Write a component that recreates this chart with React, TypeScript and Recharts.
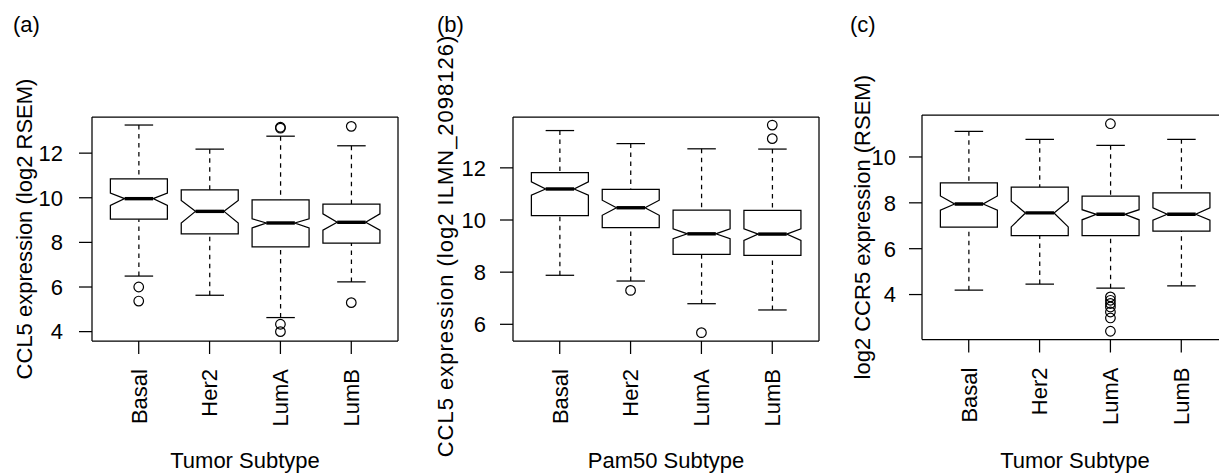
import React from 'react';
import { ComposedChart, Bar, Scatter, XAxis, YAxis, Label } from 'recharts';

const FONT = '"Liberation Sans", Arial, Helvetica, sans-serif';

const categories = ['Basal', 'Her2', 'LumA', 'LumB'];

// ---- panel (a): CCL5 expression (log2 RSEM) by tumor subtype ----
const aLower = [6.49, 5.63, 4.63, 6.23];
const aQ1 = [9.04, 8.38, 7.8, 7.97];
const aNotchLo = [9.66, 8.87, 8.65, 8.55];
const aMedian = [9.96, 9.39, 8.87, 8.9];
const aNotchHi = [10.21, 9.88, 9.06, 9.28];
const aQ3 = [10.85, 10.35, 9.91, 9.71];
const aUpper = [13.26, 12.18, 12.76, 12.33];
const aOutliers = [[6.0, 5.37], [], [13.12, 13.16, 4.33, 4.0], [13.2, 5.3]];
const aYTicks = [4, 6, 8, 10, 12];
const aYDomain = [3.58, 13.62];

// ---- panel (b): CCL5 expression (log2 ILMN_2098126) by Pam50 subtype ----
const bLower = [7.88, 7.66, 6.79, 6.55];
const bQ1 = [10.17, 9.71, 8.68, 8.64];
const bNotchLo = [10.95, 10.18, 9.28, 9.22];
const bMedian = [11.19, 10.47, 9.47, 9.46];
const bNotchHi = [11.46, 10.76, 9.66, 9.66];
const bQ3 = [11.82, 11.17, 10.38, 10.37];
const bUpper = [13.43, 12.93, 12.73, 12.72];
const bOutliers = [[], [7.3], [5.68], [13.12, 13.64]];
const bYTicks = [6, 8, 10, 12];
const bYDomain = [5.36, 13.95];

// ---- panel (c): log2 CCR5 expression (RSEM) by tumor subtype ----
const cLower = [4.19, 4.46, 4.28, 4.38];
const cQ1 = [6.94, 6.57, 6.57, 6.77];
const cNotchLo = [7.68, 6.95, 7.26, 7.24];
const cMedian = [7.95, 7.56, 7.5, 7.5];
const cNotchHi = [8.3, 8.07, 7.7, 7.78];
const cQ3 = [8.87, 8.68, 8.29, 8.43];
const cUpper = [11.12, 10.77, 10.51, 10.77];
const cOutliers = [[], [], [11.45, 3.9, 3.75, 3.61, 3.46, 3.24, 2.98, 2.4], []];
const cYTicks = [4, 6, 8, 10];
const cYDomain = [2.04, 11.83];

type Row = {
  cat: string;
  lower: number;
  q1: number;
  notchLo: number;
  median: number;
  notchHi: number;
  q3: number;
  upper: number;
  out: number[];
};

const buildRows = (
  lower: number[], q1: number[], nlo: number[], med: number[],
  nhi: number[], q3: number[], upper: number[], outliers: number[][]
): Row[] =>
  categories.map((cat, i) => ({
    cat,
    lower: lower[i],
    q1: q1[i],
    notchLo: nlo[i],
    median: med[i],
    notchHi: nhi[i],
    q3: q3[i],
    upper: upper[i],
    out: outliers[i],
  }));

type PanelCfg = {
  left: number;
  width: number;
  yAxisWidth: number;
  plotTop: number;
  plotBottom: number;
  tickMargin: number;
  yLabel: string;
  xLabel: string;
  yLabelDist: number;
  yLabelShift: number;
  yLabelSpacing: number;
  domain: number[];
  ticks: number[];
  rows: Row[];
};

const PLOT_W = 306;
const H = 473;
const LW = 1.25;

const panels: PanelCfg[] = [
  {
    left: 0, width: 410, yAxisWidth: 92, plotTop: 117, plotBottom: 341, tickMargin: 16,
    yLabel: 'CCL5 expression (log2 RSEM)', xLabel: 'Tumor Subtype',
    yLabelDist: 68, yLabelShift: 0, yLabelSpacing: 0,
    domain: aYDomain, ticks: aYTicks,
    rows: buildRows(aLower, aQ1, aNotchLo, aMedian, aNotchHi, aQ3, aUpper, aOutliers),
  },
  {
    left: 410, width: 410, yAxisWidth: 103, plotTop: 117, plotBottom: 341, tickMargin: 14,
    yLabel: 'CCL5 expression (log2 ILMN_2098126)', xLabel: 'Pam50 Subtype',
    yLabelDist: 68, yLabelShift: 17, yLabelSpacing: 1,
    domain: bYDomain, ticks: bYTicks,
    rows: buildRows(bLower, bQ1, bNotchLo, bMedian, bNotchHi, bQ3, bUpper, bOutliers),
  },
  {
    left: 820, width: 409, yAxisWidth: 102, plotTop: 115, plotBottom: 339.5, tickMargin: 13,
    yLabel: 'log2 CCR5 expression (RSEM)', xLabel: 'Tumor Subtype',
    yLabelDist: 60, yLabelShift: 0, yLabelSpacing: 0,
    domain: cYDomain, ticks: cYTicks,
    rows: buildRows(cLower, cQ1, cNotchLo, cMedian, cNotchHi, cQ3, cUpper, cOutliers),
  },
];

const titles = [
  { text: '(a)', x: 13 },
  { text: '(b)', x: 437 },
  { text: '(c)', x: 850 },
];

const BoxShape = (props: any) => {
  const { x, y, width, height, payload } = props;
  if (!payload || x == null || y == null) return <g />;
  const top = Math.min(y, y + height);
  const bot = Math.max(y, y + height);
  const lo = payload.lower;
  const hi = payload.upper;
  const py = (v: number) => top + ((hi - v) / (hi - lo)) * (bot - top);
  const cx = x + width / 2;
  const hw = width / 2;
  const nw = hw / 2;
  const yQ3 = py(payload.q3);
  const yQ1 = py(payload.q1);
  const yNH = py(payload.notchHi);
  const yNL = py(payload.notchLo);
  const yMed = py(payload.median);
  const pts = [
    [cx - hw, yQ3], [cx + hw, yQ3], [cx + hw, yNH], [cx + nw, yMed], [cx + hw, yNL],
    [cx + hw, yQ1], [cx - hw, yQ1], [cx - hw, yNL], [cx - nw, yMed], [cx - hw, yNH],
  ].map((p) => p.join(',')).join(' ');
  return (
    <g>
      <line x1={cx} x2={cx} y1={top} y2={yQ3} stroke="#000" strokeWidth={LW} strokeDasharray="4.5 4.5" />
      <line x1={cx} x2={cx} y1={bot} y2={yQ1} stroke="#000" strokeWidth={LW} strokeDasharray="4.5 4.5" />
      <line x1={cx - nw} x2={cx + nw} y1={top} y2={top} stroke="#000" strokeWidth={LW} />
      <line x1={cx - nw} x2={cx + nw} y1={bot} y2={bot} stroke="#000" strokeWidth={LW} />
      <polygon points={pts} fill="#fff" stroke="#000" strokeWidth={LW} strokeLinejoin="miter" />
      <line x1={cx - nw} x2={cx + nw} y1={yMed} y2={yMed} stroke="#000" strokeWidth={3.4} />
    </g>
  );
};

const OutlierShape = (props: any) => {
  const { cx, cy } = props;
  if (cx == null || cy == null || !isFinite(cx) || !isFinite(cy)) return <g />;
  return <circle cx={cx} cy={cy} r={4.8} fill="none" stroke="#000" strokeWidth={1.2} />;
};

const CatTick = (props: any) => {
  const { x, y, payload } = props;
  return (
    <text
      x={x}
      y={y}
      transform={`rotate(-90, ${x}, ${y})`}
      textAnchor="end"
      dy="0.36em"
      fontSize={22}
      fontFamily={FONT}
      fill="#000"
    >
      {payload.value}
    </text>
  );
};

function Panel({ cfg }: { cfg: PanelCfg }) {
  const maxOut = Math.max(...cfg.rows.map((r) => r.out.length));
  const outIdx = Array.from({ length: maxOut }, (_, k) => k);
  // the frame's top and right axes are 1px thick bands, taken out of the margins
  const rightMargin = cfg.width - cfg.yAxisWidth - PLOT_W - 1;

  const yLabelContent = (p: any) => {
    const vb = p.viewBox || { x: 0, y: cfg.plotTop, width: cfg.yAxisWidth, height: cfg.plotBottom - cfg.plotTop };
    const cx = vb.x + vb.width - cfg.yLabelDist;
    const cy = vb.y + vb.height / 2 + cfg.yLabelShift;
    return (
      <text
        x={cx}
        y={cy}
        transform={`rotate(-90, ${cx}, ${cy})`}
        textAnchor="middle"
        dominantBaseline="central"
        fontSize={22}
        fontFamily={FONT}
        letterSpacing={cfg.yLabelSpacing}
        fill="#000"
      >
        {cfg.yLabel}
      </text>
    );
  };

  const xLabelContent = (p: any) => {
    const vb = p.viewBox || { x: cfg.yAxisWidth, y: cfg.plotBottom, width: PLOT_W, height: H - cfg.plotBottom };
    const cx = vb.x + vb.width / 2;
    return (
      <text x={cx} y={467.5} textAnchor="middle" fontSize={22} fontFamily={FONT} fill="#000">
        {cfg.xLabel}
      </text>
    );
  };

  const frameLine = { stroke: '#000', strokeWidth: LW };

  return (
    <div style={{ position: 'absolute', left: cfg.left, top: 0, width: cfg.width, height: H }}>
      <ComposedChart
        width={cfg.width}
        height={H}
        data={cfg.rows}
        margin={{ top: cfg.plotTop - 1, right: rightMargin, bottom: 0, left: 0 }}
      >
        <XAxis
          dataKey="cat"
          type="category"
          padding={{ left: 11.3, right: 11.3 }}
          height={H - cfg.plotBottom}
          tickSize={13}
          tickMargin={15}
          tickLine={{ stroke: '#000', strokeWidth: LW }}
          axisLine={frameLine}
          interval={0}
          tick={<CatTick />}
        >
          <Label content={xLabelContent} />
        </XAxis>
        <XAxis
          xAxisId="top"
          orientation="top"
          dataKey="cat"
          type="category"
          height={1}
          tick={false}
          tickLine={false}
          axisLine={frameLine}
        />
        <YAxis
          type="number"
          domain={cfg.domain}
          ticks={cfg.ticks}
          allowDataOverflow
          width={cfg.yAxisWidth}
          tickSize={13}
          tickMargin={cfg.tickMargin}
          tickLine={{ stroke: '#000', strokeWidth: LW }}
          axisLine={frameLine}
          interval={0}
          tick={{ fontSize: 22, fill: '#000', fontFamily: FONT }}
        >
          <Label content={yLabelContent} />
        </YAxis>
        <YAxis
          yAxisId="right"
          orientation="right"
          type="number"
          domain={cfg.domain}
          allowDataOverflow
          width={1}
          tick={false}
          tickLine={false}
          axisLine={frameLine}
        />
        <Bar
          dataKey={(r: Row) => [r.lower, r.upper]}
          shape={<BoxShape />}
          isAnimationActive={false}
        />
        {outIdx.map((k) => (
          <Scatter
            key={k}
            dataKey={(r: Row) => (r.out[k] === undefined ? null : r.out[k])}
            shape={<OutlierShape />}
            isAnimationActive={false}
          />
        ))}
      </ComposedChart>
    </div>
  );
}

export default function App() {
  return (
    <div
      style={{
        position: 'absolute',
        left: 0,
        top: 0,
        width: 1219,
        height: H,
        overflow: 'hidden',
        background: '#fff',
        fontFamily: FONT,
      }}
    >
      {panels.map((cfg, i) => (
        <Panel key={i} cfg={cfg} />
      ))}
      <svg
        width={1219}
        height={H}
        style={{ position: 'absolute', left: 0, top: 0, pointerEvents: 'none' }}
      >
        {titles.map((t) => (
          <text key={t.text} x={t.x} y={32} fontSize={22} fontFamily={FONT} fill="#000">
            {t.text}
          </text>
        ))}
      </svg>
    </div>
  );
}
